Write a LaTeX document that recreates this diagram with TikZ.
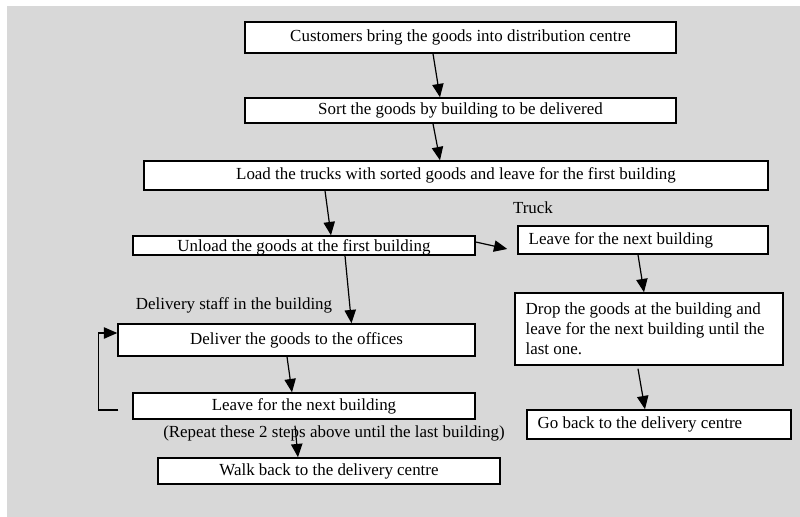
\documentclass[tikz,border=0pt]{standalone}
\usepackage{fontspec}
\setmainfont{Liberation Serif}
\usetikzlibrary{arrows.meta,calc}
\definecolor{bggray}{RGB}{216,216,216}
\tikzset{
  box/.style 2 args={draw,fill=white,line width=1.1pt,inner sep=0pt,
    minimum width=#1*0.75pt,minimum height=#2*0.75pt},
  lbox/.style 2 args={draw,fill=white,line width=1.1pt,inner ysep=0pt,inner xsep=8pt,
    align=flush left,text width=#1*0.75pt-16pt,minimum height=#2*0.75pt},
  arr/.style={line width=0.9pt,-{Triangle[length=10pt,width=8.5pt]}}
}
\begin{document}
\begin{tikzpicture}[x=0.75pt,y=-0.75pt]
\fontsize{12.7}{15}\selectfont
\useasboundingbox (0,0) rectangle (800,517);
\fill[bggray] (7,6) rectangle (800,517);
% main line
\node[box={431}{31}] (cust) at (460.5,37.5) {Customers bring the goods into distribution centre};
\node[box={431}{25}] (sort) at (460.5,110.5) {Sort the goods by building to be delivered};
\node[box={624}{29}] (load) at (456,175.5) {Load the trucks with sorted goods and leave for the first building};
\node[box={342}{19},text depth=0pt] (unload) at (304,245.5) {Unload the goods at the first building};
% truck
\node (truck) at (533,208) {Truck};
\node[lbox={250}{28}] (tleave) at (643,240) {Leave for the next building};
\node[lbox={268}{72}] (drop) at (649,329) {Drop the goods at the building and\\leave for the next building until the\\last one.\\[6pt]};
\node[lbox={264}{29}] (goback) at (659,424.5) {Go back to the delivery centre};
% delivery staff
\node (staff) at (234,305) {Delivery staff in the building};
\node[box={357}{32}] (deliver) at (296.5,340) {Deliver the goods to the offices};
\node[box={342}{26}] (sleave) at (304,406) {Leave for the next building};
\node (repeat) at (334,433) {(Repeat these 2 steps above until the last building)};
\node[box={342}{26}] (walk) at (329,471) {Walk back to the delivery centre};
% arrows
\draw[arr] ($(cust.south)+(-27.5,0)$) -- ($(sort.north)+(-20.5,0)$);
\draw[arr] ($(sort.south)+(-27.5,0)$) -- ($(load.north)+(-16,0)$);
\draw[arr] ($(load.south)+(-131,0)$) -- ($(unload.north)+(27,0)$);
\draw[arr] ($(unload.south)+(41,0)$) -- ($(deliver.north)+(55,0)$);
\draw[arr] ($(unload.east)+(0,-3.5)$) -- ($(tleave.west)+(-10,9)$);
\draw[arr] ($(tleave.south)+(-5,0)$) -- ($(drop.north)+(-5,0)$);
\draw[arr] ($(drop.south)+(-11,3)$) -- ($(goback.north)+(-14,0)$);
\draw[arr] ($(deliver.south)+(-9.5,0)$) -- ($(sleave.north)+(-12,0)$);
\draw[arr] ($(sleave.south)+(-9,6)$) -- ($(walk.north)+(-31,0)$);
\draw[arr] ($(sleave.west)+(-14,4)$) -| ($(deliver.west)+(-19,-7)$) -- ($(deliver.west)+(0,-7)$);
\end{tikzpicture}
\end{document}
